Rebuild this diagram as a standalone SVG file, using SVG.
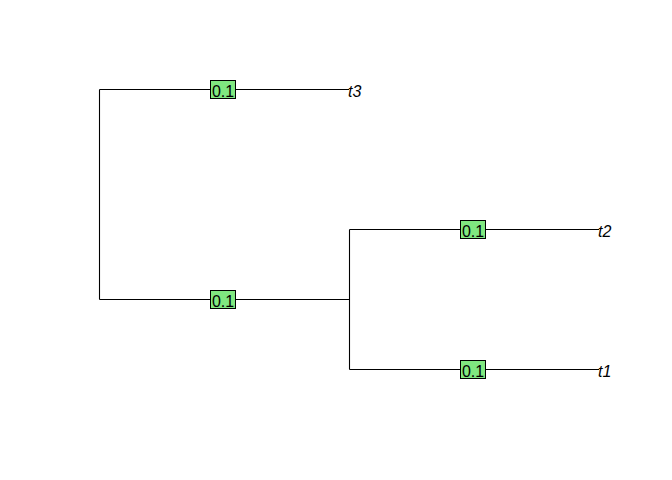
<svg xmlns="http://www.w3.org/2000/svg" width="672" height="480" viewBox="0 0 672 480">
<style>
.e{stroke:#000;stroke-width:1.1;fill:none}
.b{fill:#80e880;stroke:#000;stroke-width:1}
.bl{font-family:"Liberation Sans",Arial,sans-serif;font-size:16px;fill:#000;text-anchor:middle}
.tip{font-family:"Liberation Sans",Arial,sans-serif;font-size:16px;font-style:italic;fill:#000}
</style>
<rect width="672" height="480" fill="#fff"/>
<g id="edges">
<path class="e" d="M99.5,89.5V299.5"/>
<path class="e" d="M99.5,89.5H349"/>
<path class="e" d="M99.5,299.5H349.5"/>
<path class="e" d="M349.5,229.5V369.5"/>
<path class="e" d="M349.5,229.5H599"/>
<path class="e" d="M349.5,369.5H599"/>
</g>
<g id="label-t3e"><rect class="b" x="210.5" y="80.5" width="25" height="18"/><text class="bl" x="223" y="96.5">0.1</text></g>
<g id="label-inner"><rect class="b" x="210.5" y="290.5" width="25" height="18"/><text class="bl" x="223" y="306.5">0.1</text></g>
<g id="label-t2e"><rect class="b" x="460.5" y="220.5" width="25" height="18"/><text class="bl" x="473" y="236.5">0.1</text></g>
<g id="label-t1e"><rect class="b" x="460.5" y="360.5" width="25" height="18"/><text class="bl" x="473" y="376.5">0.1</text></g>
<g id="tip-t3"><text class="tip" x="348" y="96.5">t3</text></g>
<g id="tip-t2"><text class="tip" x="598" y="236.5">t2</text></g>
<g id="tip-t1"><text class="tip" x="598" y="376.5">t1</text></g>
</svg>
